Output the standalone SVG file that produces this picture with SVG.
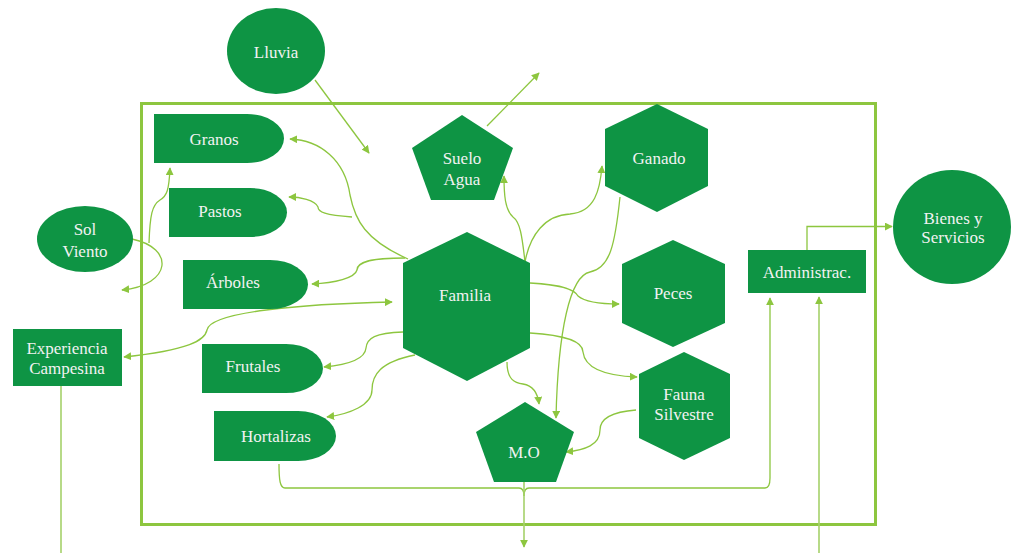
<svg xmlns="http://www.w3.org/2000/svg" width="1012" height="553" viewBox="0 0 1012 553">
<defs>
<marker id="ah" viewBox="0 0 10 10" refX="9" refY="5" markerWidth="8" markerHeight="8" markerUnits="userSpaceOnUse" orient="auto-start-reverse">
<path d="M0,0 L10,5 L0,10 Z" fill="#8DC63F"/>
</marker>
<style>
.n{fill:#0E9444;}
.t{font-family:"Liberation Serif","Times New Roman",serif;font-size:17px;fill:#F2F2F2;text-anchor:middle;}
.c{fill:none;stroke:#8DC63F;stroke-width:1.3;}
.l{fill:none;stroke:#A5D16A;stroke-width:1.6;}
.a{marker-end:url(#ah);}
</style>
</defs>
<rect x="141.5" y="103.5" width="734" height="421" fill="none" stroke="#8DC63F" stroke-width="3"/>
<g id="connectors">
<path class="c a" d="M315,80 L369,153"/>
<path class="c a" d="M487,126 L539,73"/>
<path class="c a" d="M807,250 V226.5 H892"/>
<path class="c a" d="M132,239 C175,248 172,285 122,290"/>
<path class="c a" d="M149,243 C150,215 152,205 160,200 C167,196 169,190 170,168"/>
<path class="c a" d="M408,259 C365,240 355,220 350,195 C345,160 320,140 290,139"/>
<path class="c a" d="M352,217 C325,215 318,212 318,207 C315,200 300,197 289,197"/>
<path class="c a" d="M405,258 C370,258 357,262 357,270 C355,278 335,283 312,284"/>
<path class="c a" d="M124,357 C190,350 205,340 207,330 C210,312 300,304 392,302" marker-start="url(#ah)"/>
<path class="c a" d="M403,332 C375,333 367,338 366,348 C365,360 345,365 324,367"/>
<path class="c a" d="M415,355 C380,362 372,375 372,390 C372,405 350,414 327,417"/>
<path class="c a" d="M525,262 C522,235 520,222 513,217 C505,210 504,195 504,176"/>
<path class="c a" d="M525,262 C530,235 545,215 570,214 C595,212 600,190 602,166"/>
<path class="c a" d="M530,283 C565,285 575,290 578,296 C585,302 600,304 619,304"/>
<path class="c a" d="M530,333 C565,335 583,342 583,352 C585,370 610,376 637,377"/>
<path class="c a" d="M507,362 C507,380 515,383 523,384 C535,386 538,395 539,404"/>
<path class="c a" d="M620,197 C615,245 610,268 590,272 C570,276 558,330 556,418"/>
<path class="c a" d="M636,410 C610,412 600,420 600,430 C600,445 585,450 566,452"/>
<path class="c" d="M279,464 C279,480 280,488 285,488 H519 C523,488 524,492 524,496"/>
<path class="c a" d="M524,496 C524,492 525,488 529,488 H765 C769,488 770,484 770,478 V298"/>
<path class="l a" d="M524,482 V547"/>
<path class="l" d="M61,386 V553"/>
<path class="l a" d="M819,553 V297"/>
</g>
<g id="lluvia"><ellipse class="n" cx="276" cy="51" rx="49" ry="43"/><text class="t" x="276" y="58">Lluvia</text></g>
<g id="granos"><path class="n" d="M154,114 H247 A37,24.5 0 0 1 247,163 H154 Z"/><text class="t" x="214" y="145">Granos</text></g>
<g id="pastos"><path class="n" d="M169,188 H250 A37,24.5 0 0 1 250,237 H169 Z"/><text class="t" x="220" y="217">Pastos</text></g>
<g id="arboles"><path class="n" d="M183,260 H270 A38,24.5 0 0 1 270,309 H183 Z"/><text class="t" x="233" y="288">Árboles</text></g>
<g id="frutales"><path class="n" d="M202,344 H286 A37,24.5 0 0 1 286,393 H202 Z"/><text class="t" x="253" y="372">Frutales</text></g>
<g id="hortalizas"><path class="n" d="M214,411 H298 A38,25 0 0 1 298,461 H214 Z"/><text class="t" x="276" y="442">Hortalizas</text></g>
<g id="sol-viento"><ellipse class="n" cx="85" cy="239" rx="48" ry="33"/><text class="t" x="85" y="235">Sol</text><text class="t" x="85" y="257">Viento</text></g>
<g id="experiencia"><rect class="n" x="13" y="329" width="109" height="57"/><text class="t" x="67" y="354">Experiencia</text><text class="t" x="67" y="374">Campesina</text></g>
<g id="suelo-agua"><polygon class="n" points="462,115 513,148 494,200 431,200 412,148"/><text class="t" x="462" y="164">Suelo</text><text class="t" x="462" y="185">Agua</text></g>
<g id="ganado"><polygon class="n" points="657,104 708,129 708,186 657,212 605,186 605,129"/><text class="t" x="659" y="164">Ganado</text></g>
<g id="familia"><polygon class="n" points="467,232 530,263 530,348 467,381 403,348 403,263"/><text class="t" x="465" y="301">Familia</text></g>
<g id="peces"><polygon class="n" points="673,240 725,264 725,323 673,347 622,323 622,264"/><text class="t" x="673" y="299">Peces</text></g>
<g id="fauna"><polygon class="n" points="684,352 730,374 730,438 684,460 639,438 639,374"/><text class="t" x="684" y="400">Fauna</text><text class="t" x="684" y="420">Silvestre</text></g>
<g id="mo"><polygon class="n" points="525,402 574,432 556,482 494,482 476,432"/><text class="t" x="524" y="458">M.O</text></g>
<g id="administrac"><rect class="n" x="748" y="250" width="118" height="43"/><text class="t" x="807" y="278">Administrac.</text></g>
<g id="bienes"><ellipse class="n" cx="952" cy="227" rx="59" ry="57"/><text class="t" x="953" y="224">Bienes y</text><text class="t" x="953" y="243">Servicios</text></g>
</svg>
